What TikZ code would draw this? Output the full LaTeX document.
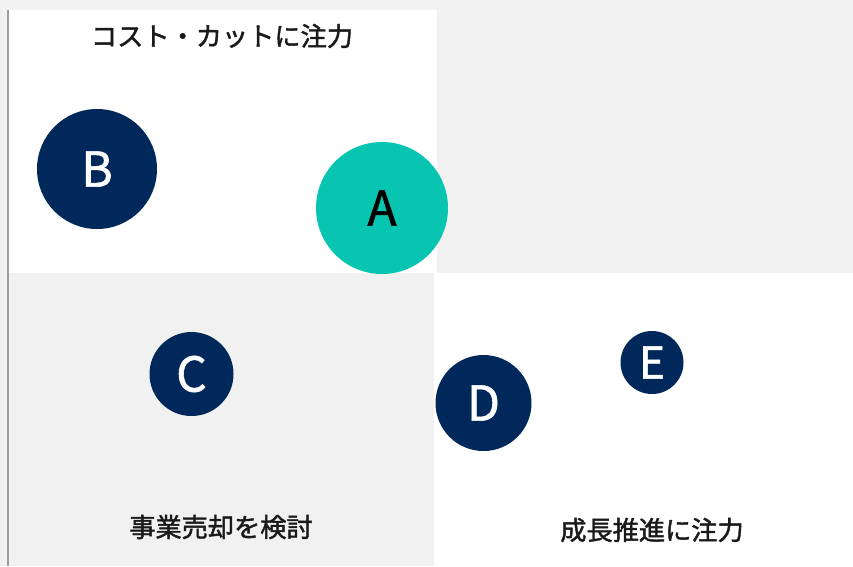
\documentclass[tikz,border=0pt]{standalone}
\usepackage{fontspec}
\setmainfont{Noto Sans CJK JP}
\newfontfamily\medfont[FakeBold=1.6]{Noto Sans CJK JP}
\newfontfamily\letfont[FakeBold=1.2]{Noto Sans CJK JP}
\definecolor{bggray}{HTML}{F1F1F1}
\definecolor{navy}{HTML}{00285A}
\definecolor{teal}{HTML}{08C5B1}
\definecolor{axisgray}{HTML}{9AA09D}
\definecolor{txt}{HTML}{1A1A1A}
\tikzset{
  bubble/.style={circle, inner sep=0pt, fill=navy, text=white, font=\letfont\fontsize{48}{48}\selectfont},
  quadlabel/.style={inner sep=0pt, text=txt, font=\medfont\fontsize{26.2}{27}\selectfont, anchor=center}
}
\begin{document}
\begin{tikzpicture}[x=1pt,y=-1pt]
\useasboundingbox (0,0) rectangle (853,566);
\fill[bggray] (0,0) rectangle (853,566);
\fill[white] (8,10) rectangle (437,273);
\fill[white] (434,273) rectangle (853,566);
\coordinate (axtop) at (7.5,10);
\coordinate (axbot) at (7.5,566);
\draw[axisgray, line width=2pt] (axtop) -- (axbot);
\node[quadlabel] (lt) at (222,36) {コスト・カットに注力};
\node[quadlabel] (lb) at (221,527) {事業売却を検討};
\node[quadlabel] (rb) at (652,530) {成長推進に注力};
\node[bubble, minimum size=120pt] (B) at (97,169) {B};
\node[bubble, minimum size=132pt, fill=teal, text=black] (A) at (382,208) {A};
\node[bubble, minimum size=84pt] (C) at (191.5,374) {C};
\node[bubble, minimum size=96pt] (D) at (483.5,403) {D};
\node[bubble, minimum size=63pt, font=\letfont\fontsize{44}{44}\selectfont] (E) at (652,362.5) {E};
\end{tikzpicture}
\end{document}
